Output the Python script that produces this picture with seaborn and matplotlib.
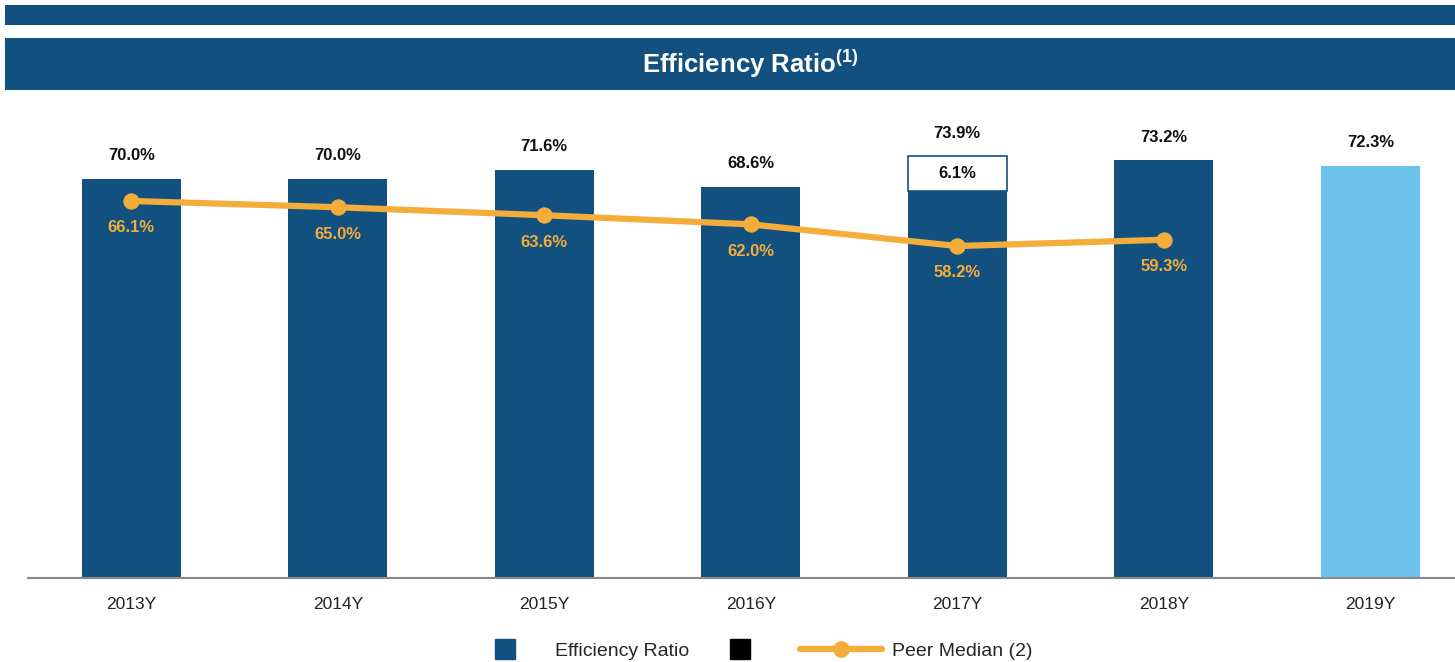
import numpy as np
import pandas as pd
import matplotlib
matplotlib.use('Agg')
import matplotlib.pyplot as plt
from matplotlib.patches import Rectangle
from matplotlib.lines import Line2D
import seaborn as sns

years = ['2013Y', '2014Y', '2015Y', '2016Y', '2017Y', '2018Y', '2019Y']
efficiency = [70.0, 70.0, 71.6, 68.6, 67.8, 73.2, 72.3]
efficiency_total = [70.0, 70.0, 71.6, 68.6, 73.9, 73.2, 72.3]
adj_2017 = 6.1
peer_years = ['2013Y', '2014Y', '2015Y', '2016Y', '2017Y', '2018Y']
peer_median = [66.1, 65.0, 63.6, 62.0, 58.2, 59.3]

navy = '#12517f'
light = '#6cc2ec'
orange = '#f4ac3a'

sns.set_theme(style='white')
plt.rcParams['font.family'] = ['Liberation Sans', 'DejaVu Sans']
plt.rcParams['mathtext.fontset'] = 'custom'
plt.rcParams['mathtext.bf'] = 'Liberation Sans:bold'
plt.rcParams['mathtext.rm'] = 'Liberation Sans'

fig = plt.figure(figsize=(14.55, 6.62), dpi=100)
H = 662.0
W = 1455.0

# header bands
fig.patches.append(Rectangle((5 / W, 1 - 25 / H), 1, 20 / H, transform=fig.transFigure,
                             facecolor=navy, edgecolor='none'))
fig.patches.append(Rectangle((5 / W, 1 - 90 / H), 1, 52 / H, transform=fig.transFigure,
                             facecolor=navy, edgecolor='none'))
fig.text(750 / W, 1 - 64 / H, r'Efficiency Ratio$^{\mathbf{(1)}}$', color='white',
         fontsize=18.5, fontweight='bold', ha='center', va='center')

ax = fig.add_axes([28 / W, 1 - 578 / H, 1 - 28 / W, (578 - 100) / H])

df = pd.DataFrame({'year': years, 'value': efficiency})
colors = [navy] * 6 + [light]
sns.barplot(data=df, x='year', y='value', hue='year', palette=colors, legend=False,
            order=years, width=0.48, saturation=1, ax=ax, edgecolor='none')

# 2017 adjustment stacked on top
i17 = years.index('2017Y')
ax.bar(i17, adj_2017, bottom=efficiency[i17], width=0.48, color='white',
       edgecolor=navy, linewidth=1.2)
ax.text(i17, efficiency[i17] + adj_2017 / 2, f'{adj_2017:.1f}%', ha='center', va='center',
        fontsize=12, fontweight='bold', color='#111111')

for i, v in enumerate(efficiency_total):
    ax.text(i, v + 4.0, f'{v:.1f}%', ha='center', va='center', fontsize=12,
            fontweight='bold', color='#111111')

px = np.arange(len(peer_years))
sns.lineplot(x=px, y=peer_median, color=orange, linewidth=4.5, marker='o',
             markersize=11, markeredgecolor=orange, ax=ax)
for i, v in zip(px, peer_median):
    ax.text(i, v - 4.7, f'{v:.1f}%', ha='center', va='center', fontsize=12,
            fontweight='bold', color=orange)

ax.set_xlim(-0.5, 6.41)
ax.set_ylim(0, 83.8)
ax.set_xlabel('')
ax.set_ylabel('')
ax.set_yticks([])
for s in ['top', 'left', 'right']:
    ax.spines[s].set_visible(False)
ax.spines['bottom'].set_color('#8a8a8a')
ax.spines['bottom'].set_linewidth(1.5)
ax.tick_params(axis='x', length=0, pad=14, labelsize=12.5, labelcolor='#222222')

handles = [
    Line2D([], [], marker='s', linestyle='none', markersize=14, color=navy),
    Line2D([], [], marker='s', linestyle='none', markersize=14, color='black'),
    Line2D([], [], color=orange, linewidth=4.5, marker='o', markersize=11),
]
fig.legend(handles, ['Efficiency Ratio', '', 'Peer Median (2)'], ncol=3,
           loc='center', bbox_to_anchor=(748 / W, 1 - 651 / H), frameon=False,
           fontsize=14, handlelength=4.2, handletextpad=0.5, columnspacing=0.5,
           borderaxespad=0, borderpad=0)

fig.savefig('out.png', dpi=100)
